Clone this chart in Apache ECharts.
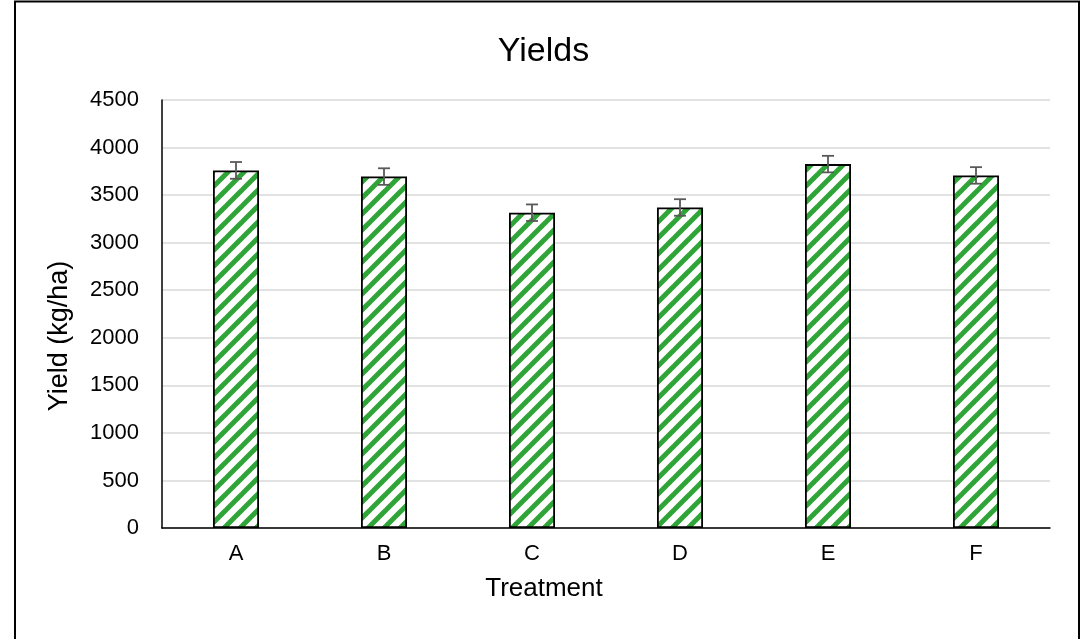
<!DOCTYPE html>
<html>
<head>
<meta charset="utf-8">
<script src="https://cdn.jsdelivr.net/npm/echarts@6/dist/echarts.min.js"></script>
<style>
html,body{margin:0;padding:0;background:#fff;}
#chart{width:1087px;height:639px;}
</style>
</head>
<body>
<div id="chart"></div>
<script>
const categories = ['A', 'B', 'C', 'D', 'E', 'F'];
const yields = [3760, 3695, 3315, 3370, 3826, 3707];
const errors = [88, 87, 87, 87, 87, 87];
const yTicks = [0, 500, 1000, 1500, 2000, 2500, 3000, 3500, 4000, 4500];

const FONT = '"Liberation Sans", Arial, sans-serif';

// diagonal stripe pattern tile
const P = 16;
const tile = document.createElement('canvas');
tile.width = P; tile.height = P;
const tc = tile.getContext('2d');
tc.fillStyle = '#ffffff';
tc.fillRect(0, 0, P, P);
tc.strokeStyle = '#2EA536';
tc.lineWidth = 5;
for (let k = -P; k <= P; k += P) {
  tc.beginPath();
  tc.moveTo(k - 2, P + 2);
  tc.lineTo(k + P + 2, -2);
  tc.stroke();
}

const chart = echarts.init(document.getElementById('chart'), null, {renderer: 'canvas'});
chart.setOption({
  animation: false,
  backgroundColor: '#ffffff',
  title: {
    text: 'Yields',
    left: 'center',
    top: 30,
    padding: [5, 5, 5, 14],
    textStyle: {fontFamily: FONT, fontSize: 34, fontWeight: 'normal', color: '#000'}
  },
  grid: {left: 162, right: 37, top: 100, bottom: 111},
  xAxis: {
    type: 'category',
    data: categories,
    name: 'Treatment',
    nameLocation: 'middle',
    nameGap: 48,
    nameTextStyle: {fontFamily: FONT, fontSize: 26, color: '#000', padding: [0, 124, 0, 0]},
    axisLine: {lineStyle: {color: '#000', width: 1.5}},
    axisTick: {show: false},
    axisLabel: {fontFamily: FONT, fontSize: 22, color: '#000', margin: 15}
  },
  yAxis: {
    type: 'value',
    min: 0, max: 4500, interval: 500,
    name: 'Yield (kg/ha)',
    nameLocation: 'middle',
    nameGap: 89,
    nameTextStyle: {fontFamily: FONT, fontSize: 27, color: '#000', padding: [0, 44, 0, 0]},
    axisLine: {show: true, lineStyle: {color: '#000', width: 1.5}},
    axisTick: {show: false},
    splitLine: {lineStyle: {color: '#D9D9D9', width: 1.5}},
    axisLabel: {
      fontFamily: FONT, fontSize: 22, color: '#000', margin: 23,
      formatter: v => yTicks.includes(v) ? String(v) : ''
    }
  },
  series: [
    {
      type: 'bar',
      data: yields,
      barWidth: 46,
      itemStyle: {
        color: {image: tile, repeat: 'repeat'},
        borderColor: '#000',
        borderWidth: 1.8
      },
      z: 2
    },
    {
      type: 'custom',
      z: 3,
      data: yields.map((v, i) => [i, v, errors[i]]),
      renderItem: function (params, api) {
        const x = api.value(0);
        const v = api.value(1);
        const e = api.value(2);
        const top = api.coord([x, v + e]);
        const bot = api.coord([x, v - e]);
        const hw = 6;
        const style = {stroke: '#595959', lineWidth: 1.8, fill: null};
        return {
          type: 'group',
          children: [
            {type: 'line', shape: {x1: top[0], y1: top[1], x2: bot[0], y2: bot[1]}, style},
            {type: 'line', shape: {x1: top[0] - hw, y1: top[1], x2: top[0] + hw, y2: top[1]}, style},
            {type: 'line', shape: {x1: bot[0] - hw, y1: bot[1], x2: bot[0] + hw, y2: bot[1]}, style}
          ]
        };
      }
    }
  ],
  graphic: [
    {
      type: 'rect',
      shape: {x: 15, y: 1.5, width: 1064, height: 660},
      style: {fill: null, stroke: '#000', lineWidth: 2},
      z: 100, silent: true
    }
  ]
});
</script>
</body>
</html>
